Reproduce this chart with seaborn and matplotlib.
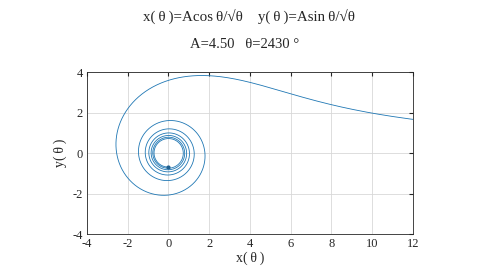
import numpy as np
import pandas as pd
import matplotlib
matplotlib.use("Agg")
import matplotlib.pyplot as plt
import seaborn as sns

# Parameters shown in the chart title
A = 4.5
theta_max_deg = 2430
x_ticks = [-4, -2, 0, 2, 4, 6, 8, 10, 12]
y_ticks = [-4, -2, 0, 2, 4]

# Curve defined by the chart's own formula: x = A cos(t)/sqrt(t), y = A sin(t)/sqrt(t)
theta = np.linspace(0.05, np.deg2rad(theta_max_deg), 6000)
df = pd.DataFrame({"x": A * np.cos(theta) / np.sqrt(theta),
                   "y": A * np.sin(theta) / np.sqrt(theta)})

sns.set_style("white")
plt.rcParams["font.family"] = ["Liberation Serif", "DejaVu Serif"]
plt.rcParams["axes.unicode_minus"] = False

fig = plt.figure(figsize=(4.8, 2.7), dpi=100)
ax = fig.add_axes([0.181, 0.133, 0.679, 0.600])

sns.lineplot(data=df, x="x", y="y", sort=False, estimator=None,
             color="#1f77b4", linewidth=0.6, ax=ax)
ax.plot(df["x"].iloc[-1], df["y"].iloc[-1], "o", color="#1f5f8f", markersize=2)

ax.set_xlim(-4, 12)
ax.set_ylim(-4, 4)
ax.set_xticks(x_ticks)
ax.set_yticks(y_ticks)
ax.tick_params(direction="in", length=3, labelsize=9, colors="#262626",
               top=True, right=True, pad=3)
ax.grid(True, color="#d8d8d8", linewidth=0.6)
for s in ax.spines.values():
    s.set_color("#262626")
    s.set_linewidth(0.6)
ax.set_xlabel("x(\u2009θ\u2009)", fontsize=10, labelpad=1)
ax.set_ylabel("y(\u2009θ\u2009)", fontsize=10, labelpad=4)

fig.text(0.518, 0.94, "x(\u2009θ\u2009)=Acos\u2009θ/√θ    y(\u2009θ\u2009)=Asin\u2009θ/√θ",
         ha="center", va="center", fontsize=10.8)
fig.text(0.51, 0.835, "A=4.50   θ=2430 °", ha="center", va="center", fontsize=10.5)

fig.savefig("out.png", dpi=100, facecolor="white")
